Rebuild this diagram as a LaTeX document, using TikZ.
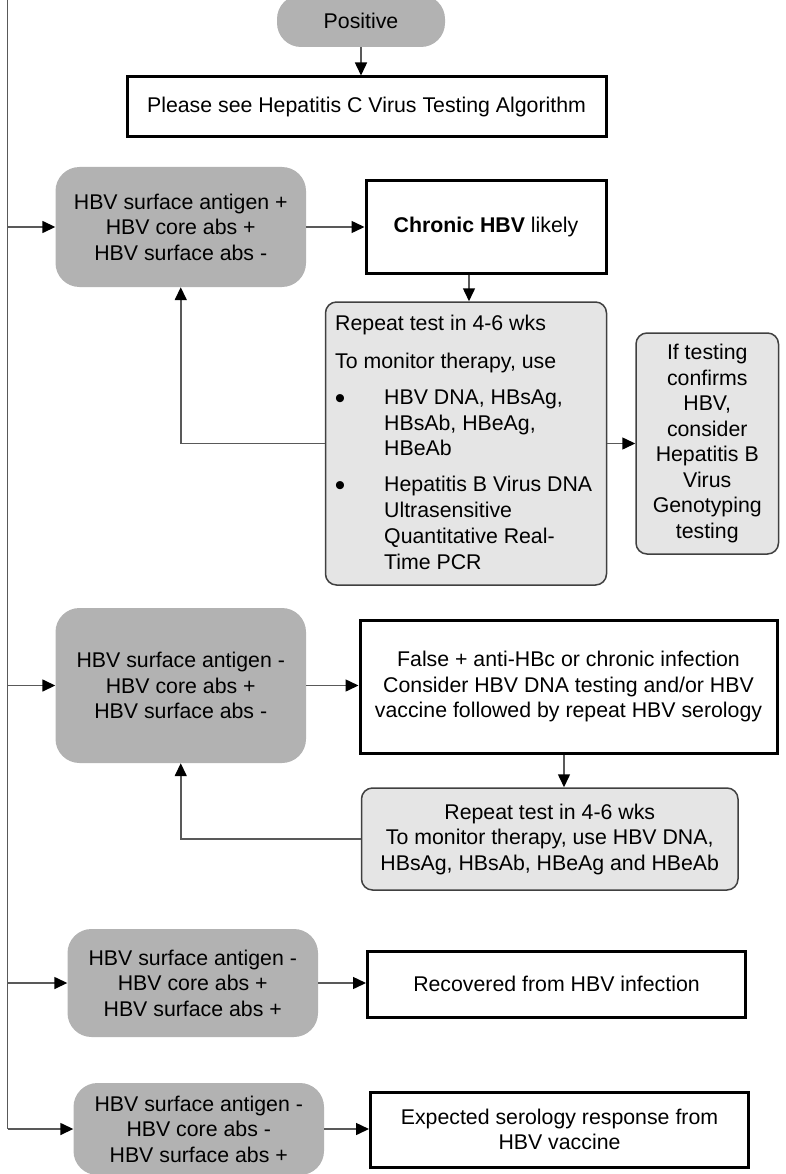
\documentclass[tikz,border=0pt]{standalone}
\usepackage{fontspec}
\setmainfont{Liberation Sans}
\usepackage{graphicx}
\usetikzlibrary{arrows.meta,calc}
\begin{document}
\begin{tikzpicture}[x=1pt,y=-1pt,
  every node/.style={font=\fontsize{21.3}{25.5}\selectfont, inner sep=0pt, align=center},
  grayb/.style={fill=gray!60, draw=none, rounded corners=24pt, minimum width=250.5pt},
  thickb/.style={draw=black, line width=3pt, fill=white},
  lightb/.style={draw=black!75, line width=1.5pt, fill=gray!20, rounded corners=11pt},
  conn/.style={draw=black!65, line width=1.5pt, -{Triangle[length=13pt,width=12pt,color=black]}},
  plainline/.style={draw=black!65, line width=1.5pt},
  txt/.style={anchor=base west},
  bul/.style={anchor=base}
]
\useasboundingbox (0,0) rectangle (785,1174);
\clip (0,0) rectangle (785,1174);

% left trunk
\coordinate (ltop) at (7.5,-2);
\coordinate (lbot) at (7.5,1129);
\draw[plainline] (ltop) -- (lbot);

% top
\node[fill=gray!60, rounded corners=24pt, minimum width=168pt, minimum height=52pt] (pos) at (361,21) {Positive};
\node[thickb, minimum width=479pt, minimum height=60pt] (hcv) at (366.5,107) {Please see Hepatitis C Virus Testing Algorithm};

% group 1
\node[grayb, minimum height=120pt] (g1) at (180.75,227) {HBV surface antigen +\\HBV core abs +\\HBV surface abs -};
\node[thickb, minimum width=240pt, minimum height=92pt] (chr) at (486,227) {\textbf{Chronic HBV} likely};
\node[lightb, minimum width=281pt, minimum height=283pt] (rep1) at (466,443.5) {};
\node[txt] (r1a) at (335,330.6) {Repeat test in 4-6 wks};
\node[txt] (r1b) at (335,368.6) {To monitor therapy, use};
\node[bul] (b1) at (340,408) {\scalebox{1.4}{\textbullet}};
\node[txt] (r1c) at (384,404.6) {HBV DNA, HBsAg,};
\node[txt] (r1d) at (384,430.6) {HBsAb, HBeAg,};
\node[txt] (r1e) at (384,455.6) {HBeAb};
\node[bul] (b2) at (340,495.7) {\scalebox{1.4}{\textbullet}};
\node[txt] (r1f) at (384,491.6) {Hepatitis B Virus DNA};
\node[txt] (r1g) at (384,517.6) {Ultrasensitive};
\node[txt] (r1h) at (384,543.6) {Quantitative Real-};
\node[txt] (r1i) at (384,569.6) {Time PCR};
\node[lightb, minimum width=142.5pt, minimum height=221pt] (ift) at (707.25,443.5) {If testing\\confirms\\HBV,\\consider\\Hepatitis B\\Virus\\Genotyping\\testing};

% group 2
\node[grayb, minimum height=155pt] (g2) at (180.75,685.5) {HBV surface antigen -\\HBV core abs +\\HBV surface abs -};
\node[thickb, minimum width=417pt, minimum height=133pt] (fal) at (568.5,686.5) {False + anti-HBc or chronic infection\\Consider HBV DNA testing and/or HBV\\vaccine followed by repeat HBV serology};
\node[lightb, minimum width=376.5pt, minimum height=102pt] (rep2) at (549.75,839) {Repeat test in 4-6 wks\\To monitor therapy, use HBV DNA,\\HBsAg, HBsAb, HBeAg and HBeAb};

% group 3
\node[grayb, minimum height=108pt] (g3) at (192.75,983) {HBV surface antigen -\\HBV core abs +\\HBV surface abs +};
\node[thickb, minimum width=378pt, minimum height=66pt] (rec) at (556.5,984) {Recovered from HBV infection};

% group 4
\node[grayb, minimum height=92pt] (g4) at (198.75,1129) {HBV surface antigen -\\HBV core abs -\\HBV surface abs +};
\node[thickb, minimum width=378pt, minimum height=75pt] (exp) at (559.5,1129.5) {Expected serology response from\\HBV vaccine};

% connectors
\draw[conn] (pos.south) -- (pos.south |- hcv.north);
\draw[conn] (g1.west -| ltop) -- (g1.west);
\draw[conn] (g1.east) -- (chr.west);
\draw[conn] ([xshift=-17pt]chr.south) -- ([xshift=-17pt]chr.south |- rep1.north);
\draw[conn] (rep1.west) -| (g1.south);
\draw[conn] (rep1.east) -- (ift.west);
\draw[conn] (g2.west -| ltop) -- (g2.west);
\draw[conn] (g2.east) -- (g2.east -| fal.west);
\draw[conn] ([xshift=-4.5pt]fal.south) -- ([xshift=-4.5pt]fal.south |- rep2.north);
\draw[conn] (rep2.west) -| (g2.south);
\draw[conn] (g3.west -| ltop) -- (g3.west);
\draw[conn] (g3.east) -- (g3.east -| rec.west);
\draw[conn] (g4.west -| ltop) -- (g4.west);
\draw[conn] (g4.east) -- (g4.east -| exp.west);
\end{tikzpicture}
\end{document}
